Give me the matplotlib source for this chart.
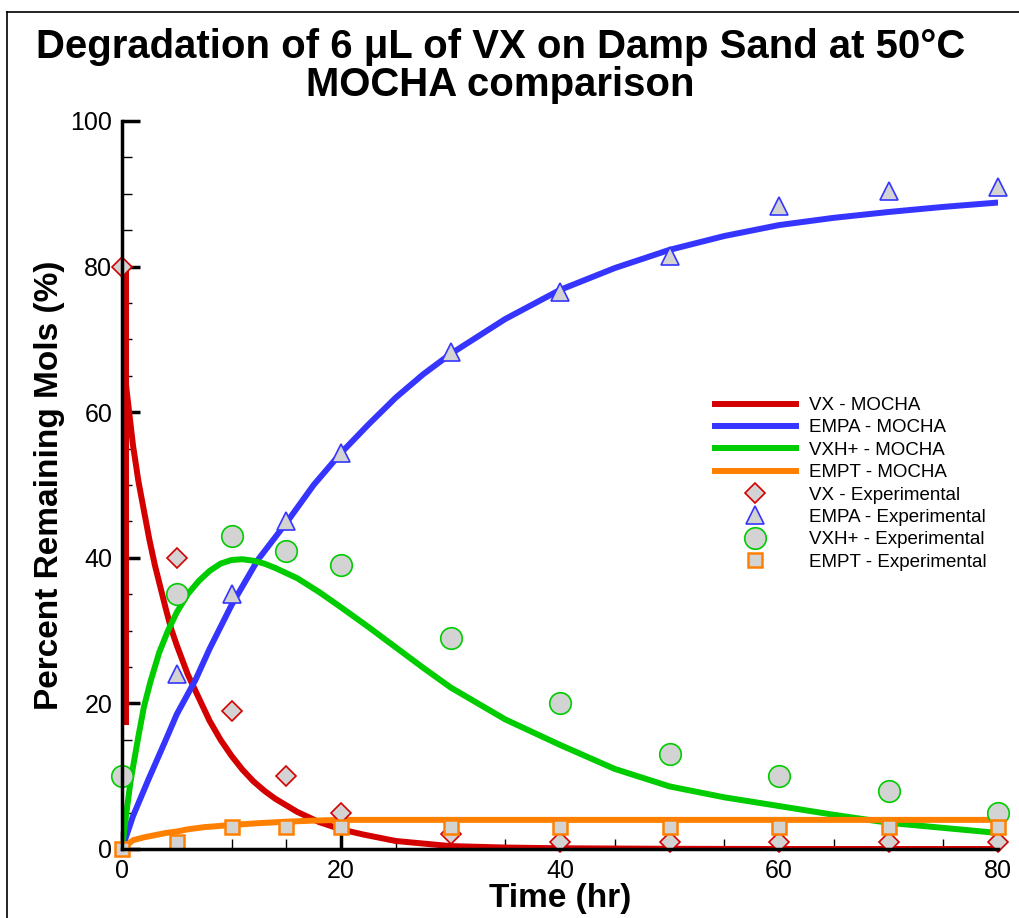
import matplotlib
matplotlib.use("Agg")
import matplotlib.pyplot as plt
from matplotlib.lines import Line2D
from matplotlib.ticker import MultipleLocator

plt.rcParams['font.family'] = ['Liberation Sans', 'DejaVu Sans']

# ---------------- data ----------------
# MOCHA model curves
vx_spike_t = [0.35, 0.35]
vx_spike_v = [80, 17]
vx_model_t = [0.35, 0.5, 1, 1.5, 2, 2.5, 3, 3.5, 4, 4.5, 5, 6, 7, 8, 9, 10, 11, 12, 13, 14,
              15, 16, 17, 18, 20, 22, 25, 30, 35, 40, 50, 60, 80]
vx_model_v = [64, 62, 55.5, 50.5, 46.5, 42.5, 39, 36, 33, 30.2, 28, 24, 20.8, 17.6, 15, 12.8,
              10.9, 9.3, 8.0, 6.9, 6.0, 5.1, 4.4, 3.7, 2.7, 2.0, 1.1, 0.4, 0.2, 0.1, 0.03, 0, 0]

empa_model_t = [0, 1, 2.4, 4, 5, 6.7, 8, 10, 12.4, 15.2, 17.5, 20, 22.5, 25, 27.5, 30, 35, 40,
                45, 50, 55, 60, 65, 70, 75, 80]
empa_model_v = [0, 4.5, 9.5, 15, 18.5, 23.2, 27.5, 33.5, 39.7, 45.2, 50, 54.4, 58.3, 62, 65.2,
                68, 72.8, 76.8, 79.8, 82.3, 84.2, 85.7, 86.7, 87.5, 88.2, 88.8]

vxh_model_t = [0, 0.4, 0.8, 1.5, 2, 2.6, 3.4, 4.2, 5, 6, 7, 8, 9, 10, 11, 12, 13, 14, 16, 18,
               20, 22.5, 25, 27.5, 30, 35, 40, 45, 50, 55, 60, 65, 70, 75, 80]
vxh_model_v = [0, 5, 9.5, 15.5, 19.5, 23, 27, 30, 32.5, 35, 36.8, 38.2, 39.2, 39.7, 39.8, 39.6,
               39.2, 38.6, 37.2, 35.3, 33.2, 30.5, 27.7, 24.9, 22.2, 17.8, 14.3, 11.0, 8.6, 7.1,
               5.9, 4.7, 3.6, 2.9, 2.2]

empt_model_t = [0, 0.5, 1, 2, 3, 4, 5, 6, 7.5, 10, 12.5, 15, 17.5, 20, 80]
empt_model_v = [0, 0.6, 1.2, 1.6, 1.9, 2.2, 2.4, 2.7, 3.0, 3.3, 3.55, 3.75, 3.9, 4.0, 4.0]

# Experimental data
vx_exp_t = [0, 5, 10, 15, 20, 30, 40, 50, 60, 70, 80]
vx_exp_v = [80, 40, 19, 10, 5, 2, 1, 1, 1, 1, 1]

empa_exp_t = [5, 10, 15, 20, 30, 40, 50, 60, 70, 80]
empa_exp_v = [24, 35, 45, 54.4, 68.3, 76.5, 81.5, 88.3, 90.4, 91]

vxh_exp_t = [0, 5, 10, 15, 20, 30, 40, 50, 60, 70, 80]
vxh_exp_v = [10, 35, 43, 41, 39, 29, 20, 13, 10, 8, 5]

empt_exp_t = [0, 5, 10, 15, 20, 30, 40, 50, 60, 70, 80]
empt_exp_v = [0, 1, 3, 3, 3, 3, 3, 3, 3, 3, 3]

x_ticks = [0, 20, 40, 60, 80]
y_ticks = [0, 20, 40, 60, 80, 100]

title_text = "Degradation of 6 \u03bcL of VX on Damp Sand at 50\u00b0C\nMOCHA comparison"

# ---------------- style ----------------
c_red = '#d40000'
c_blue = '#3535ff'
c_green = '#00cc00'
c_orange = '#ff8000'
fill = '#d3d3d3'
lw = 4.3

fig = plt.figure(figsize=(10.19, 9.18), dpi=100)
ax = fig.add_axes([122/1019, 1-849/918, (998-122)/1019, (849-121)/918])

ax.plot(vx_spike_t, vx_spike_v, color=c_red, lw=lw, solid_capstyle='butt')
ax.plot(vx_model_t, vx_model_v, color=c_red, lw=lw, label='VX - MOCHA')
ax.plot(empa_model_t, empa_model_v, color=c_blue, lw=lw, label='EMPA - MOCHA')
ax.plot(vxh_model_t, vxh_model_v, color=c_green, lw=lw, label='VXH+ - MOCHA')
ax.plot(empt_model_t, empt_model_v, color=c_orange, lw=lw, label='EMPT - MOCHA')

mew = 1.2
ax.plot(vx_exp_t, vx_exp_v, ls='none', marker='D', ms=10.5, mfc=fill, mec=c_red, mew=mew,
        label='VX - Experimental', clip_on=False)
ax.plot(empa_exp_t, empa_exp_v, ls='none', marker='^', ms=13, mfc=fill, mec=c_blue, mew=mew,
        label='EMPA - Experimental', clip_on=False)
ax.plot(vxh_exp_t, vxh_exp_v, ls='none', marker='o', ms=15.5, mfc=fill, mec=c_green, mew=mew,
        label='VXH+ - Experimental', clip_on=False)
ax.plot(empt_exp_t, empt_exp_v, ls='none', marker='s', ms=10.5, mfc=fill, mec=c_orange, mew=1.8,
        label='EMPT - Experimental', clip_on=False)

ax.set_xlim(0, 80)
ax.set_ylim(0, 100)
ax.set_xticks(x_ticks)
ax.set_yticks(y_ticks)
ax.xaxis.set_minor_locator(MultipleLocator(5))
ax.yaxis.set_minor_locator(MultipleLocator(5))
ax.tick_params(which='major', direction='in', length=13, width=2.5, labelsize=18, pad=7)
ax.tick_params(which='minor', direction='in', length=7, width=1)
for s in ['top', 'right']:
    ax.spines[s].set_visible(False)
for s in ['left', 'bottom']:
    ax.spines[s].set_linewidth(2.5)

ax.set_xlabel('Time (hr)', fontsize=24, fontweight='bold', labelpad=0)
ax.set_ylabel('Percent Remaining Mols (%)', fontsize=24, fontweight='bold', labelpad=4)

fig.text(0.491, 1-66/918, title_text, ha='center', va='center', fontsize=28.9,
         fontweight='bold', linespacing=1.0)

leg = ax.legend(loc='upper left', bbox_to_anchor=(715/1019, 1-397/918),
                bbox_transform=fig.transFigure, frameon=False, fontsize=13.5,
                handlelength=4.3, handletextpad=0.7, labelspacing=0.28,
                borderpad=0, borderaxespad=0, numpoints=1)

# figure frame (top and left edges)
fig.add_artist(Line2D([7/1019, 1.0], [1-11.5/918, 1-11.5/918], transform=fig.transFigure,
                      color='black', lw=1.2))
fig.add_artist(Line2D([7/1019, 7/1019], [0, 1-11.5/918], transform=fig.transFigure,
                      color='black', lw=1.2))

fig.savefig('out.png', dpi=100)
